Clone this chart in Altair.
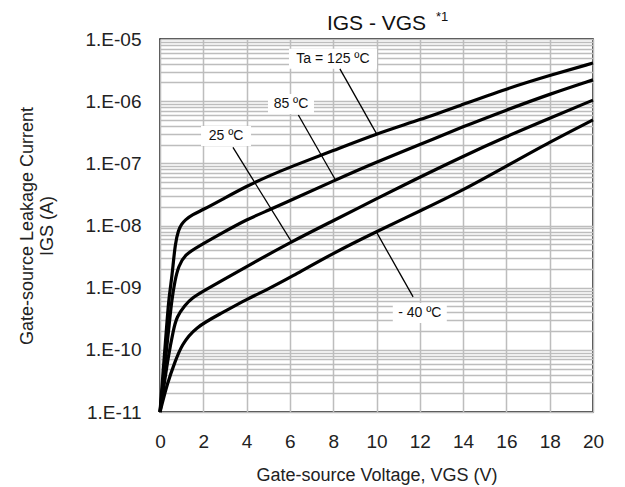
import altair as alt
import pandas as pd

# ---- data ----
x_125 = [0, 0.1, 0.2, 0.3, 0.4, 0.5, 0.6, 0.7, 0.85, 1.0, 1.15, 1.5, 2, 2.85, 4, 5, 6, 8, 10, 12, 14, 16, 18, 20]
y_125 = [1e-11, 2.8e-11, 8e-11, 2.2e-10, 6.3e-10, 1.1e-9, 2.2e-9, 5e-9, 8.5e-9, 1.05e-8, 1.22e-8, 1.5e-8,
         1.8e-8, 2.6e-8, 4.3e-8, 6.2e-8, 8.7e-8, 1.6e-7, 3.0e-7, 5.0e-7, 8.9e-7, 1.58e-6, 2.6e-6, 4.1e-6]

x_85 = [0, 0.1, 0.2, 0.3, 0.4, 0.54, 0.69, 0.85, 1.15, 1.77, 2.85, 4, 5, 6, 8, 10, 12, 14, 16, 18, 20]
y_85 = [1e-11, 2.1e-11, 4.7e-11, 1e-10, 2.1e-10, 6.3e-10, 1.3e-9, 2.2e-9, 3.4e-9, 4.6e-9, 7.5e-9,
        1.25e-8, 1.75e-8, 2.5e-8, 5.2e-8, 1.05e-7, 2.0e-7, 3.9e-7, 7.2e-7, 1.3e-6, 2.2e-6]

x_25 = [0, 0.15, 0.38, 0.62, 0.77, 1.15, 1.46, 2.08, 2.85, 4.39, 6.08, 8.08, 10, 12, 14, 16, 18, 20]
y_25 = [1e-11, 2.2e-11, 7.8e-11, 2.1e-10, 3.4e-10, 5.2e-10, 6.8e-10, 9.1e-10, 1.3e-9, 2.6e-9, 5.5e-9,
        1.23e-8, 2.7e-8, 6.0e-8, 1.3e-7, 2.7e-7, 5.3e-7, 1.04e-6]

x_m40 = [0, 0.35, 0.7, 1.0, 1.62, 2.85, 4, 5, 6, 8, 10, 12, 14, 16, 18, 20]
y_m40 = [1e-11, 3e-11, 6.5e-11, 1.2e-10, 2.3e-10, 3.9e-10, 6.5e-10, 9.5e-10, 1.45e-9, 3.6e-9, 8e-9,
         1.7e-8, 3.7e-8, 9.0e-8, 2.2e-7, 5e-7]

series_names = ["125", "85", "25", "-40"]

label_text = ["Ta = 125 ºC", "85 ºC", "25 ºC", "- 40 ºC"]
label_x = [7.99, 6.05, 3.05, 12.0]
label_y = [4.8e-6, 9.0e-7, 2.76e-7, 3.9e-10]
leader_x1 = [8.31, 6.39, 3.37, 11.69]
leader_y1 = [3.3e-6, 6.0e-7, 1.8e-7, 7.1e-10]
leader_x2 = [10.0, 8.08, 6.07, 10.02]
leader_y2 = [3.0e-7, 5.6e-8, 5.5e-9, 7.6e-9]

x_ticks = [0, 2, 4, 6, 8, 10, 12, 14, 16, 18, 20]
y_ticks = [m * 10.0 ** e for e in range(-11, -5) for m in range(1, 10)] + [1e-5]

chart_title = "IGS - VGS"
title_note = "*1"

# ---- tables ----
rows = []
for name, xs, ys in zip(series_names, [x_125, x_85, x_25, x_m40], [y_125, y_85, y_25, y_m40]):
    for xv, yv in zip(xs, ys):
        rows.append({"series": name, "VGS": xv, "IGS": yv})
curves = pd.DataFrame(rows)

labels = pd.DataFrame({"text": label_text, "x": label_x, "y": label_y,
                       "x1": leader_x1, "y1": leader_y1, "x2": leader_x2, "y2": leader_y2})
titles = pd.DataFrame({"t": [chart_title]})

FONT = "Liberation Sans"
box_paths = ["M-4.4,-1L4.4,-1L4.4,1L-4.4,1Z", "M-2.3,-1L2.3,-1L2.3,1L-2.3,1Z",
             "M-2.5,-1L2.5,-1L2.5,1L-2.5,1Z", "M-2.7,-1L2.7,-1L2.7,1L-2.7,1Z"]

xscale = alt.Scale(domain=[0, 20], nice=False, zero=False)
yscale = alt.Scale(type="log", domain=[1e-11, 1e-5], nice=False)

label_expr = ("abs(log(datum.value)/LN10 - round(log(datum.value)/LN10)) < 0.001 ? "
              "'1.E-' + (round(-log(datum.value)/LN10) < 10 ? '0' : '') + round(-log(datum.value)/LN10) : ''")

lines = alt.Chart(curves).mark_line(color="black", strokeWidth=3.2, interpolate="basis").encode(
    x=alt.X("VGS:Q", scale=xscale,
            axis=alt.Axis(values=x_ticks, title="Gate-source Voltage, VGS (V)", ticks=False, domain=False,
                          labelFlush=False, labelPadding=20, titlePadding=15, labelFontSize=19,
                          titleFontSize=18, gridColor="#bdbdbd", gridWidth=1.5)),
    y=alt.Y("IGS:Q", scale=yscale,
            axis=alt.Axis(values=y_ticks, labelExpr=label_expr, title=["Gate-source Leakage Current", "IGS (A)"],
                          ticks=False, domain=False, labelFlush=False, labelOverlap=False, labelPadding=19,
                          titlePadding=29, labelFontSize=19, titleFontSize=18,
                          gridColor="#bdbdbd", gridWidth=1.5)),
    detail="series:N",
)

boxes = alt.Chart(labels).mark_point(filled=True, color="white", opacity=1, size=400, strokeWidth=0).encode(
    x=alt.X("x:Q", scale=xscale),
    y=alt.Y("y:Q", scale=yscale),
    shape=alt.Shape("text:N", scale=alt.Scale(domain=label_text, range=box_paths), legend=None),
)

texts = alt.Chart(labels).mark_text(font=FONT, fontSize=14, color="#111", baseline="middle", align="center").encode(
    x=alt.X("x:Q", scale=xscale),
    y=alt.Y("y:Q", scale=yscale),
    text="text:N",
)

leaders = alt.Chart(labels).mark_rule(color="black", strokeWidth=1.3).encode(
    x=alt.X("x1:Q", scale=xscale),
    y=alt.Y("y1:Q", scale=yscale),
    x2="x2:Q",
    y2="y2:Q",
)

title_mark = alt.Chart(titles).mark_text(font=FONT, fontSize=21, color="#111", align="center",
                                         baseline="alphabetic").encode(
    x=alt.value(216.5), y=alt.value(-9), text="t:N")

note_mark = alt.Chart(titles).mark_text(font=FONT, fontSize=13, color="#111", align="left",
                                        baseline="alphabetic").encode(
    x=alt.value(276), y=alt.value(-18), text=alt.value(title_note))

chart = alt.layer(lines, boxes, texts, leaders, title_mark, note_mark).properties(
    width=433, height=373,
    autosize=alt.AutoSizeParams(type="none"),
    padding={"left": 152, "top": 31, "right": 24, "bottom": 75},
).configure_view(stroke="black", strokeWidth=1.5).configure_axis(
    labelFont=FONT, titleFont=FONT, labelColor="#222", titleColor="#222",
    titleFontWeight="normal", labelFontWeight="normal"
)

chart.save("out.html", embed_options={"renderer": "svg", "actions": False})
